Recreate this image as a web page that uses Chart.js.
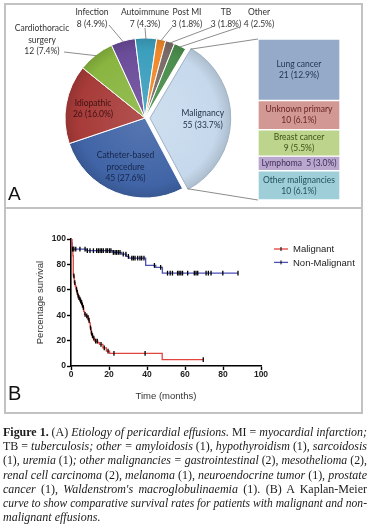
<!DOCTYPE html>
<html>
<head>
<meta charset="utf-8">
<title>Pericardial effusions</title>
<script src="https://cdn.jsdelivr.net/npm/chart.js@4"></script>
<style>
  html, body { margin: 0; padding: 0; background: #fff; }
  body { position: relative; width: 370px; height: 530px; overflow: hidden; }
  .panel { position: absolute; box-sizing: border-box; border: 2px solid #c2c2c2; }
  #panelA { left: 4px; top: 3px; width: 359px; height: 206px; }
  #panelB { left: 4px; top: 209px; width: 359px; height: 205px; border-top: none; }
  canvas { position: absolute; }
  #pieChart, #kmChart { left: 0; top: 0; }
  #barChart { left: 252px; top: 34px; }
  .tag { position: absolute; font-family: 'Liberation Sans', Arial, sans-serif; line-height: 1; color: #111; }
  #tagA { left: 2px; top: 179px; font-size: 19px; }
  #tagB { left: 2px; top: 174px; font-size: 20px; }
  #caption { position: absolute; left: 3px; top: 425px; width: 364px;
             font-family: 'Liberation Serif', 'DejaVu Serif', serif; font-size: 12px; color: #1a1a1a; }
  .cap { height: 14.2px; line-height: 14.2px; white-space: nowrap; }
  .cap span.ln { display: inline-block; transform-origin: left center; }
</style>
</head>
<body>

<div class="panel" id="panelA">
  <canvas id="pieChart" width="355" height="202"></canvas>
  <canvas id="barChart" width="82" height="161"></canvas>
  <div class="tag" id="tagA">A</div>
</div>

<div class="panel" id="panelB">
  <canvas id="kmChart" width="355" height="203"></canvas>
  <div class="tag" id="tagB">B</div>
</div>

<div id="caption">
  <div class="cap"><span class="ln"><b>Figure 1.</b> (A) <i>Etiology of pericardial effusions.</i> MI = <i>myocardial infarction;</i></span></div>
  <div class="cap"><span class="ln">TB = <i>tuberculosis; other = amyloidosis</i> (1), <i>hypothyroidism</i> (1), <i>sarcoidosis</i></span></div>
  <div class="cap"><span class="ln">(1), <i>uremia</i> (1)<i>; other malignancies = gastrointestinal</i> (2), <i>mesothelioma</i> (2),</span></div>
  <div class="cap"><span class="ln"><i>renal cell carcinoma</i> (2), <i>melanoma</i> (1), <i>neuroendocrine tumor</i> (1), <i>prostate</i></span></div>
  <div class="cap"><span class="ln"><i>cancer</i> (1), <i>Waldenstrom's macroglobulinaemia</i> (1). (B) A Kaplan-Meier</span></div>
  <div class="cap"><span class="ln"><i>curve to show comparative survival rates for patients with malignant and non-</i></span></div>
  <div class="cap last"><span class="ln"><i>malignant effusions</i>.</span></div>
</div>

<script>
// ---- Panel A: etiology (pie) ----
const etiologyLabels = ['Malignancy', 'Catheter-based procedure', 'Idiopathic', 'Cardiothoracic surgery',
                        'Infection', 'Autoimmune', 'Post MI', 'TB', 'Other'];
const etiologyCounts = [55, 45, 26, 12, 8, 7, 3, 3, 4];
const etiologyPercents = ['33.7%', '27.6%', '16.0%', '7.4%', '4.9%', '4.3%', '1.8%', '1.8%', '2.5%'];
const etiologyColors = ['#c6d9ec', '#4064a6', '#a73b39', '#89b540', '#6b4c9a', '#3c9fbd', '#f0882a', '#7b6b67', '#4b8d4c'];

// ---- Panel A: malignancy breakdown (bar of pie) ----
const malignancyLabels = ['Lung cancer', 'Unknown primary', 'Breast cancer', 'Lymphoma', 'Other malignancies'];
const malignancyCounts = [21, 10, 9, 5, 10];
const malignancyPercents = ['12.9%', '6.1%', '5.5%', '3.0%', '6.1%'];
const malignancyColors = ['#95aac9', '#d29894', '#bdd48d', '#b9a7ce', '#9ecfd9'];

// ---- Panel B: Kaplan-Meier (months, % survival) ----
const malignantTime = [0, 0.5, 1.0, 1.2, 1.7, 2.2, 2.6, 3.1, 3.5, 4.0, 4.4, 4.9, 5.3, 5.8, 6.2, 6.7, 7.1, 7.9,
                       8.8, 9.3, 9.7, 10.1, 10.6, 11.0, 11.5, 12.4, 14.1, 15.0, 16.8, 18.6, 20.3, 48.0, 69.6];
const malignantSurvival = [100, 92, 86.8, 71, 65.7, 63, 60.5, 58, 55.2, 53.9, 52.6, 51.2, 49.9, 48, 46, 43, 40.7, 39.4,
                           38, 36, 34, 30, 26, 24, 22, 19.6, 18.3, 17, 14.3, 11.7, 9.9, 5, 5];
const malignantCensored = [0.8, 1.5, 2.0, 2.9, 3.3, 3.8, 4.2, 4.7, 5.1, 5.6, 6.0, 6.5, 7.4, 8.3, 9.0, 9.5, 10.3,
                           10.8, 11.3, 12.0, 13.0, 13.8, 15.8, 17.5, 19.5, 22.6, 39.0, 69.6];

const nonMalignantTime = [0, 0.3, 0.6, 1.0, 8.0, 22.0, 26.5, 29.0, 30.5, 39.3, 44.6, 48.1, 87.9];
const nonMalignantSurvival = [100, 97, 94, 92.1, 90.8, 89.4, 88.1, 86.3, 85, 79.2, 77.6, 73.1, 73.1];
const nonMalignantCensored = [1.5, 2.5, 4.7, 7.4, 8.6, 10, 11.8, 13.5, 14.4, 15.3, 16.1, 17, 18.4, 19.1, 20.2, 21,
                              22.3, 23.2, 24, 24.9, 25.8, 27.5, 28.9, 30.2, 32, 32.8, 33.7, 35.1, 36.3, 37.2, 38.4,
                              43.9, 47.2, 50.8, 52.2, 53.4, 56.1, 56.9, 57.8, 58.7, 61.4, 64.9, 65.8, 66.7,
                              71.1, 72.3, 73.7, 79.9, 87.9];

const timeTicks = [0, 20, 40, 60, 80, 100];
const survivalTicks = [0, 20, 40, 60, 80, 100];

const RED = '#e2433c';
const BLUE = '#4d51b6';

Chart.defaults.font.family = "'Liberation Sans', Arial, sans-serif";

// Display lines for the etiology labels
const etiologyLabelLines = [['Malignancy'], ['Catheter-based', 'procedure'], ['Idiopathic'], ['Cardiothoracic', 'surgery'],
                            ['Infection'], ['Autoimmune'], ['Post MI'], ['TB'], ['Other']];
const insideTextColors = ['#1f2d45', '#17264a', '#3e1212'];

// Where the outside labels sit (canvas px) and where their leader lines start
const outsideLabels = {
    3: { x: 36, y: [23, 35, 46], from: [58, 47] },
    4: { x: 86, y: [7, 19], from: [103, 20] },
    5: { x: 139, y: [7, 19], from: [139, 23] },
    6: { x: 181, y: [7, 19], from: [166, 22] },
    7: { x: 220, y: [7, 19], from: [206, 22] },
    8: { x: 253, y: [7, 19], from: [234, 22] }
};
const BAR_BOX = { left: 252, top: 34, bottom: 195 };
const LABEL_FONT = "8.5px Lato, 'Open Sans', sans-serif";

function shade(hex, amt) {
    const n = parseInt(hex.slice(1), 16);
    let r = n >> 16, g = (n >> 8) & 255, b = n & 255;
    const t = amt > 0 ? 255 : 0, a = Math.abs(amt);
    r = Math.round(r + (t - r) * a); g = Math.round(g + (t - g) * a); b = Math.round(b + (t - b) * a);
    return `rgb(${r},${g},${b})`;
}

// Slight glossy look like the original
function sliceFill(context) {
    const base = etiologyColors[context.dataIndex];
    const area = context.chart.chartArea;
    if (!area) return base;
    const cx = (area.left + area.right) / 2, cy = (area.top + area.bottom) / 2;
    const g = context.chart.ctx.createRadialGradient(cx, cy, 0, cx, cy, 82);
    g.addColorStop(0, shade(base, 0.12));
    g.addColorStop(0.82, base);
    g.addColorStop(1, shade(base, -0.14));
    return g;
}

const pieLabelPlugin = {
    id: 'pieLabels',
    afterDatasetsDraw(chart) {
        const c = chart.ctx;
        const arcs = chart.getDatasetMeta(0).data;
        c.save();
        c.font = LABEL_FONT;
        c.textAlign = 'center';
        c.textBaseline = 'middle';
        arcs.forEach((arc, i) => {
            const p = arc.getProps(['x', 'y', 'startAngle', 'endAngle', 'outerRadius'], true);
            const mid = (p.startAngle + p.endAngle) / 2;
            const shift = (arc.options.offset || 0) / 4;
            const cx = p.x + Math.cos(mid) * shift, cy = p.y + Math.sin(mid) * shift;
            const lines = etiologyLabelLines[i].concat(`${etiologyCounts[i]} (${etiologyPercents[i]})`);
            const spot = outsideLabels[i];
            if (!spot) {
                const r = p.outerRadius * 0.66;
                const lx = cx + Math.cos(mid) * r, ly = cy + Math.sin(mid) * r;
                c.fillStyle = insideTextColors[i];
                lines.forEach((t, k) => c.fillText(t, lx, ly + (k - (lines.length - 1) / 2) * 11.5));
            } else {
                const ex = cx + Math.cos(mid) * (p.outerRadius - 1), ey = cy + Math.sin(mid) * (p.outerRadius - 1);
                c.strokeStyle = '#808080';
                c.lineWidth = 0.9;
                c.beginPath();
                c.moveTo(spot.from[0], spot.from[1]);
                c.lineTo(ex, ey);
                c.stroke();
                c.fillStyle = '#333';
                lines.forEach((t, k) => c.fillText(t, spot.x, spot.y[k]));
            }
        });

        // connector lines from the exploded slice to the breakdown bar
        const m = arcs[0].getProps(['x', 'y', 'startAngle', 'endAngle', 'outerRadius'], true);
        const mMid = (m.startAngle + m.endAngle) / 2;
        const sh = (arcs[0].options.offset || 0) / 4;
        const mx = m.x + Math.cos(mMid) * sh, my = m.y + Math.sin(mMid) * sh;
        c.strokeStyle = '#8c8c8c';
        c.lineWidth = 1;
        c.beginPath();
        c.moveTo(mx + Math.cos(m.startAngle) * m.outerRadius, my + Math.sin(m.startAngle) * m.outerRadius);
        c.lineTo(BAR_BOX.left, BAR_BOX.top);
        c.moveTo(mx + Math.cos(m.endAngle) * m.outerRadius, my + Math.sin(m.endAngle) * m.outerRadius);
        c.lineTo(BAR_BOX.left, BAR_BOX.bottom);
        c.stroke();
        c.restore();
    }
};

new Chart(document.getElementById('pieChart'), {
    type: 'pie',
    data: {
        labels: etiologyLabels,
        datasets: [{
            data: etiologyCounts,
            backgroundColor: sliceFill,
            borderColor: etiologyColors.map((col, i) => i === 0 ? '#9fb1c4' : '#ffffff'),
            borderWidth: 1,
            offset: etiologyCounts.map((v, i) => i === 0 ? 20 : 0),
            rotation: 30.5,
            radius: 80,
            clip: false
        }]
    },
    options: {
        responsive: false,
        animation: false,
        layout: { padding: { left: 0, right: 77, top: 24, bottom: 0 } },
        plugins: { legend: { display: false }, tooltip: { enabled: false } }
    },
    plugins: [pieLabelPlugin]
});

const barTextColors = ['#1f3252', '#6a2622', '#3b5116', '#3f2c5a', '#1f4f58'];

const barLabelPlugin = {
    id: 'barLabels',
    afterDatasetsDraw(chart) {
        const c = chart.ctx;
        c.save();
        c.font = LABEL_FONT;
        c.textAlign = 'center';
        c.textBaseline = 'middle';
        chart.data.datasets.forEach((ds, i) => {
            const bar = chart.getDatasetMeta(i).data[0];
            const p = bar.getProps(['x', 'y', 'base'], true);
            const cy = (p.y + p.base) / 2;
            const value = `${malignancyCounts[i]} (${malignancyPercents[i]})`;
            c.fillStyle = barTextColors[i];
            if (malignancyCounts[i] < 8) {
                c.fillText(`${malignancyLabels[i]}  ${value}`, p.x, cy);
            } else {
                c.fillText(malignancyLabels[i], p.x, cy - 5.5);
                c.fillText(value, p.x, cy + 5.5);
            }
        });
        c.restore();
    }
};

new Chart(document.getElementById('barChart'), {
    type: 'bar',
    data: {
        labels: ['Malignancy'],
        datasets: malignancyLabels.map((name, i) => ({
            label: name,
            data: [malignancyCounts[i]],
            backgroundColor: malignancyColors[i],
            borderColor: '#ffffff',
            borderWidth: 1,
            borderSkipped: false,
            barPercentage: 1,
            categoryPercentage: 1
        }))
    },
    options: {
        responsive: false,
        animation: false,
        layout: { padding: 0 },
        scales: {
            x: { stacked: true, display: false },
            y: { stacked: true, display: false, reverse: true, min: 0, max: 55 }
        },
        plugins: { legend: { display: false }, tooltip: { enabled: false } }
    },
    plugins: [barLabelPlugin]
});

// ---- Panel B ----
function survivalAt(times, surv, t) {
    let s = surv[0];
    for (let i = 0; i < times.length; i++) {
        if (times[i] <= t) s = surv[i];
    }
    return s;
}

function censorSet(times, surv, censored) {
    return {
        censor: true,
        data: censored.map(t => ({ x: t, y: survivalAt(times, surv, t) })),
        showLine: false,
        pointStyle: 'line',
        pointRotation: 90,
        pointRadius: 2.4,
        pointBorderColor: '#000',
        pointBorderWidth: 1.3,
        order: 0
    };
}

const LEGEND = { x: 268, len: 14, y: 40, gap: 13.4, textX: 287 };

const kmLegendPlugin = {
    id: 'kmLegend',
    afterDraw(chart) {
        const c = chart.ctx;
        c.save();
        c.font = "9.5px 'Liberation Sans', Arial, sans-serif";
        c.textBaseline = 'middle';
        chart.data.datasets.filter(d => !d.censor).forEach((d, i) => {
            const y = LEGEND.y + i * LEGEND.gap;
            c.strokeStyle = d.borderColor;
            c.lineWidth = 1.3;
            c.beginPath();
            c.moveTo(LEGEND.x, y);
            c.lineTo(LEGEND.x + LEGEND.len, y);
            c.stroke();
            c.strokeStyle = '#000';
            c.lineWidth = 1;
            c.beginPath();
            c.moveTo(LEGEND.x + LEGEND.len / 2, y - 2);
            c.lineTo(LEGEND.x + LEGEND.len / 2, y + 2);
            c.stroke();
            c.fillStyle = '#222';
            c.fillText(d.label, LEGEND.textX, y + 0.5);
        });
        c.restore();
    }
};

const tickFont = { size: 8.5, weight: 'bold' };
const titleFont = { size: 9.5 };

new Chart(document.getElementById('kmChart'), {
    type: 'line',
    data: {
        datasets: [
            {
                label: 'Malignant',
                data: malignantTime.map((t, i) => ({ x: t, y: malignantSurvival[i] })),
                borderColor: RED,
                borderWidth: 1.3,
                stepped: true,
                pointRadius: 0,
                fill: false,
                order: 1
            },
            {
                label: 'Non-Malignant',
                data: nonMalignantTime.map((t, i) => ({ x: t, y: nonMalignantSurvival[i] })),
                borderColor: BLUE,
                borderWidth: 1.3,
                stepped: true,
                pointRadius: 0,
                fill: false,
                order: 1
            },
            censorSet(malignantTime, malignantSurvival, malignantCensored),
            censorSet(nonMalignantTime, nonMalignantSurvival, nonMalignantCensored)
        ]
    },
    options: {
        responsive: false,
        animation: false,
        layout: { padding: { left: 25, right: 100, top: 30, bottom: 10 } },
        scales: {
            x: {
                type: 'linear',
                min: 0,
                max: 100,
                afterBuildTicks: s => { s.ticks = timeTicks.map(v => ({ value: v })); },
                afterFit: s => { s.height = 36; },
                ticks: { font: tickFont, color: '#222', padding: 0, maxRotation: 0 },
                grid: { drawOnChartArea: false, tickLength: 4, tickColor: '#000', tickWidth: 1.4 },
                border: { color: '#000', width: 1.6 },
                title: { display: true, text: 'Time (months)', font: titleFont, color: '#333', padding: 0 }
            },
            y: {
                min: 0,
                max: 100,
                afterBuildTicks: s => { s.ticks = survivalTicks.map(v => ({ value: v })); },
                afterFit: s => { s.width = 40; },
                ticks: { font: tickFont, color: '#222', padding: 1 },
                grid: { drawOnChartArea: false, tickLength: 4, tickColor: '#000', tickWidth: 1.4 },
                border: { color: '#000', width: 1.6 },
                title: { display: true, text: 'Percentage survival', font: titleFont, color: '#333', padding: { top: 4, bottom: 0 } }
            }
        },
        plugins: { legend: { display: false }, tooltip: { enabled: false } }
    },
    plugins: [kmLegendPlugin]
});

// ---- caption: justify each line to the full width ----
const CAP_W = 364;
document.querySelectorAll('#caption .cap').forEach(row => {
    const span = row.querySelector('.ln');
    const w = span.getBoundingClientRect().width;
    if (w > CAP_W) {
        span.style.transform = `scaleX(${CAP_W / w})`;
    } else if (!row.classList.contains('last')) {
        const gaps = (span.textContent.match(/ /g) || []).length;
        if (gaps) span.style.wordSpacing = `${(CAP_W - w) / gaps}px`;
    }
});
</script>
</body>
</html>
